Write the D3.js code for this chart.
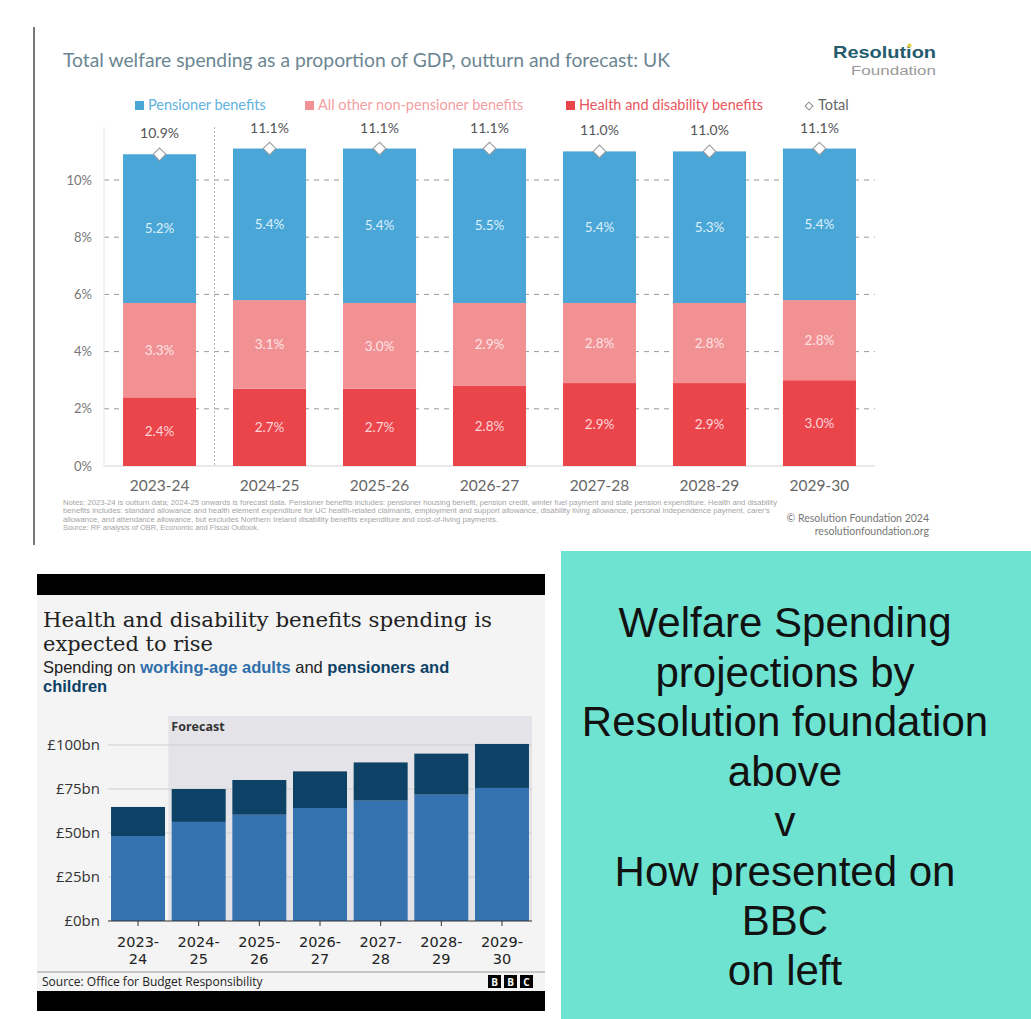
<!DOCTYPE html>
<meta charset="utf-8">
<title>Welfare spending: Resolution Foundation v BBC</title>
<style>
  body { margin: 0; background: #fff; }
  svg { display: block; }
  .rf { font-family: Lato, "Open Sans", sans-serif; }
  .bbc { font-family: "Open Sans", "Noto Sans", sans-serif; }
  .note { font-family: "Liberation Sans", Arial, sans-serif; }
</style>
<body>
<svg id="chart" width="1031" height="1019"></svg>
<script src="https://d3js.org/d3.v7.min.js"></script>
<script>
// ---- data: Resolution Foundation chart (top) ----
var rfYears = ["2023-24", "2024-25", "2025-26", "2026-27", "2027-28", "2028-29", "2029-30"];
var rfHealth = [2.4, 2.7, 2.7, 2.8, 2.9, 2.9, 3.0];
var rfOther = [3.3, 3.1, 3.0, 2.9, 2.8, 2.8, 2.8];
var rfPension = [5.2, 5.4, 5.4, 5.5, 5.4, 5.3, 5.4];
var rfTotal = [10.9, 11.1, 11.1, 11.1, 11.0, 11.0, 11.1];
var rfTicks = [0, 2, 4, 6, 8, 10];

// ---- data: BBC chart (bottom left), £bn ----
var bbcYears = ["2023-24", "2024-25", "2025-26", "2026-27", "2027-28", "2028-29", "2029-30"];
var bbcWorkingAge = [48.3, 56.3, 60.4, 64.2, 68.4, 71.8, 75.6];
var bbcPensionersChildren = [16.5, 18.7, 19.7, 20.8, 21.7, 23.3, 25.0];
var bbcTicks = [0, 25, 50, 75, 100];

// ---- caption (bottom right) ----
var captionLines = ["Welfare Spending", "projections by", "Resolution foundation", "above", "v", "How presented on", "BBC", "on left"];

var svg = d3.select("#chart");
var pct = function(v) { return d3.format(".1f")(v) + "%"; };

/* ================= Resolution Foundation ================= */
var rf = svg.append("g").attr("class", "rf");

rf.append("line")
    .attr("x1", 34).attr("x2", 34).attr("y1", 27).attr("y2", 545)
    .attr("stroke", "#4a4a4a").attr("stroke-width", 1.5);

rf.append("text")
    .attr("x", 63).attr("y", 67)
    .attr("fill", "#6b8692").attr("font-size", 19)
    .attr("textLength", 607).attr("lengthAdjust", "spacingAndGlyphs")
    .text("Total welfare spending as a proportion of GDP, outturn and forecast: UK");

// logo
rf.append("text")
    .attr("x", 936).attr("y", 58).attr("text-anchor", "end")
    .attr("font-family", "'Liberation Sans', Arial, sans-serif")
    .attr("fill", "#245c6e").attr("font-size", 17).attr("font-weight", "bold")
    .attr("textLength", 103).attr("lengthAdjust", "spacingAndGlyphs")
    .text("Resolution");
rf.append("text")
    .attr("x", 936).attr("y", 75).attr("text-anchor", "end")
    .attr("font-family", "'Liberation Sans', Arial, sans-serif")
    .attr("fill", "#9a9a9a").attr("font-size", 13)
    .attr("textLength", 85).attr("lengthAdjust", "spacingAndGlyphs")
    .text("Foundation");
rf.append("circle").attr("cx", 909.5).attr("cy", 45.5).attr("r", 2).attr("fill", "#e8d23a");

// colours
var cPension = "#4aa6d6", cOther = "#f29194", cHealth = "#eb454c";

// legend
var legend = [
  {label: "Pensioner benefits", x: 148, color: cPension, text: "#5fb2de"},
  {label: "All other non-pensioner benefits", x: 318, color: cOther, text: "#f2a0a3"},
  {label: "Health and disability benefits", x: 579, color: cHealth, text: "#e8575d"},
  {label: "Total", x: 818, color: null, text: "#666"}
];
legend.forEach(function(d) {
  if (d.color) {
    rf.append("rect").attr("x", d.x - 13).attr("y", 101).attr("width", 9).attr("height", 9).attr("fill", d.color);
  } else {
    rf.append("path")
        .attr("d", d3.symbol(d3.symbolSquare, 30)())
        .attr("transform", "translate(" + (d.x - 9) + ",106) rotate(45)")
        .attr("fill", "#fff").attr("stroke", "#888").attr("stroke-width", 1);
  }
  rf.append("text").attr("x", d.x).attr("y", 110)
      .attr("fill", d.text).attr("font-size", 14.5).text(d.label);
});

var xRF = d3.scaleBand().domain(rfYears).range([104, 875]).paddingInner(0.336).paddingOuter(0.173);
var yRF = d3.scaleLinear().domain([0, 10]).range([466, 180]);

// gridlines
rf.append("g").selectAll("line")
  .data(rfTicks.filter(function(t) { return t > 0; }))
  .enter().append("line")
    .attr("x1", 104).attr("x2", 875)
    .attr("y1", function(d) { return yRF(d); }).attr("y2", function(d) { return yRF(d); })
    .attr("stroke", "#9a9a9a").attr("stroke-dasharray", "5,5");
rf.append("line").attr("x1", 104).attr("x2", 875).attr("y1", yRF(0)).attr("y2", yRF(0))
    .attr("stroke", "#e0e0e0").attr("stroke-width", 1.5);
rf.append("line").attr("x1", 104).attr("x2", 104).attr("y1", 127).attr("y2", yRF(0))
    .attr("stroke", "#e2e2e2");
// outturn / forecast separator
var sepX = (xRF(rfYears[0]) + xRF.bandwidth() + xRF(rfYears[1])) / 2;
rf.append("line").attr("x1", sepX).attr("x2", sepX).attr("y1", 127).attr("y2", yRF(0))
    .attr("stroke", "#b5b5b5").attr("stroke-dasharray", "2,2");

// y tick labels
rf.append("g").selectAll("text")
  .data(rfTicks)
  .enter().append("text")
    .attr("x", 92).attr("y", function(d) { return yRF(d); }).attr("dy", "0.35em")
    .attr("text-anchor", "end").attr("fill", "#777").attr("font-size", 13)
    .text(function(d) { return d + "%"; });

// stacked bars
rfYears.forEach(function(yr, i) {
  var x = xRF(yr), w = xRF.bandwidth();
  var segs = [
    {lo: 0, hi: rfHealth[i], v: rfHealth[i], fill: cHealth, lab: "#fcd6d8"},
    {lo: rfHealth[i], hi: rfHealth[i] + rfOther[i], v: rfOther[i], fill: cOther, lab: "#fde3e4"},
    {lo: rfHealth[i] + rfOther[i], hi: rfTotal[i], v: rfPension[i], fill: cPension, lab: "#dcf0fb"}
  ];
  segs.forEach(function(s) {
    rf.append("rect")
        .attr("x", x).attr("width", w)
        .attr("y", yRF(s.hi)).attr("height", yRF(s.lo) - yRF(s.hi))
        .attr("fill", s.fill);
    rf.append("text")
        .attr("x", x + w / 2).attr("y", (yRF(s.lo) + yRF(s.hi)) / 2).attr("dy", "0.35em")
        .attr("text-anchor", "middle").attr("fill", s.lab).attr("font-size", 13.5)
        .text(pct(s.v));
  });
  rf.append("path")
      .attr("d", d3.symbol(d3.symbolSquare, 80)())
      .attr("transform", "translate(" + (x + w / 2) + "," + yRF(rfTotal[i]) + ") rotate(45)")
      .attr("fill", "#fff").attr("stroke", "#999").attr("stroke-width", 1);
  rf.append("text")
      .attr("x", x + w / 2).attr("y", yRF(rfTotal[i]) - 16)
      .attr("text-anchor", "middle").attr("fill", "#555").attr("font-size", 14)
      .text(pct(rfTotal[i]));
  rf.append("text")
      .attr("x", x + w / 2).attr("y", 491)
      .attr("text-anchor", "middle").attr("fill", "#666").attr("font-size", 15.5)
      .text(yr);
});

// notes
var notes = [
  ["Notes: 2023-24 is outturn data; 2024-25 onwards is forecast data. Pensioner benefits includes: pensioner housing benefit, pension credit, winter fuel payment and state pension expenditure. Health and disability", 714],
  ["benefits includes: standard allowance and health element expenditure for UC health-related claimants, employment and support allowance, disability living allowance, personal independence payment, carer's", 707],
  ["allowance, and attendance allowance, but excludes Northern Ireland disability benefits expenditure and cost-of-living payments.", 435],
  ["Source: RF analysis of OBR, Economic and Fiscal Outlook.", 196]
];
var noteText = rf.append("text").attr("class", "note")
    .attr("fill", "#a5a5a5").attr("font-size", 6.6);
notes.forEach(function(n, i) {
  noteText.append("tspan")
      .attr("x", 63).attr("y", 505 + i * 8.3)
      .attr("textLength", n[1]).attr("lengthAdjust", "spacingAndGlyphs")
      .text(n[0]);
});
var copy = rf.append("text").attr("text-anchor", "end").attr("fill", "#777").attr("font-size", 10.5);
copy.append("tspan").attr("x", 929).attr("y", 522).text("© Resolution Foundation 2024");
copy.append("tspan").attr("x", 929).attr("y", 535).text("resolutionfoundation.org");

/* ================= BBC ================= */
var bbc = svg.append("g").attr("class", "bbc");

bbc.append("rect").attr("x", 37).attr("y", 574).attr("width", 508).attr("height", 21).attr("fill", "#000");
bbc.append("rect").attr("x", 37).attr("y", 595).attr("width", 508).attr("height", 396).attr("fill", "#f4f4f4");
bbc.append("rect").attr("x", 37).attr("y", 991).attr("width", 508).attr("height", 20).attr("fill", "#000");

var title = bbc.append("text")
    .attr("font-family", "'DejaVu Serif', serif").attr("font-size", 20.5).attr("fill", "#222");
title.append("tspan").attr("x", 43).attr("y", 627)
    .attr("textLength", 449).attr("lengthAdjust", "spacingAndGlyphs")
    .text("Health and disability benefits spending is");
title.append("tspan").attr("x", 43).attr("y", 651)
    .attr("textLength", 170).attr("lengthAdjust", "spacingAndGlyphs")
    .text("expected to rise");

var cWorking = "#3472b0", cPensioners = "#0d4266";
var sub = bbc.append("text").attr("font-family", "'Liberation Sans', Arial, sans-serif")
    .attr("font-size", 16.5).attr("fill", "#222");
sub.append("tspan").attr("x", 43).attr("y", 673).text("Spending on ");
sub.append("tspan").attr("font-weight", "bold").attr("fill", "#2f6fab").text("working-age adults");
sub.append("tspan").text(" and ");
sub.append("tspan").attr("font-weight", "bold").attr("fill", cPensioners).text("pensioners and");
sub.append("tspan").attr("x", 43).attr("y", 692)
    .attr("font-weight", "bold").attr("fill", cPensioners).text("children");

var xBBC = d3.scaleBand().domain(bbcYears).range([108, 532]).paddingInner(0.11).paddingOuter(0.05);
var yBBC = d3.scaleLinear().domain([0, 100]).range([921, 745]);

// forecast shading
var fcX = xBBC(bbcYears[1]) - xBBC.step() * 0.11 / 2;
bbc.append("rect").attr("x", fcX).attr("y", 716)
    .attr("width", 532 - fcX).attr("height", yBBC(0) - 716).attr("fill", "#e4e4e8");
bbc.append("text").attr("x", fcX + 3).attr("y", 731)
    .attr("font-size", 12.5).attr("font-weight", "bold").attr("fill", "#333").text("Forecast");

// grid + y labels
bbc.append("g").selectAll("line")
  .data(bbcTicks.filter(function(t) { return t > 0; }))
  .enter().append("line")
    .attr("x1", 108).attr("x2", 532)
    .attr("y1", function(d) { return yBBC(d); }).attr("y2", function(d) { return yBBC(d); })
    .attr("stroke", "#cfcfcf");
bbc.append("g").selectAll("text")
  .data(bbcTicks)
  .enter().append("text")
    .attr("x", 100).attr("y", function(d) { return yBBC(d); }).attr("dy", "0.35em")
    .attr("text-anchor", "end").attr("font-size", 15).attr("fill", "#333")
    .text(function(d) { return "£" + d + "bn"; });

// stacked bars
bbcYears.forEach(function(yr, i) {
  var x = xBBC(yr), w = xBBC.bandwidth();
  var top = bbcWorkingAge[i] + bbcPensionersChildren[i];
  bbc.append("rect").attr("x", x).attr("width", w)
      .attr("y", yBBC(bbcWorkingAge[i])).attr("height", yBBC(0) - yBBC(bbcWorkingAge[i]))
      .attr("fill", cWorking);
  bbc.append("rect").attr("x", x).attr("width", w)
      .attr("y", yBBC(top)).attr("height", yBBC(bbcWorkingAge[i]) - yBBC(top))
      .attr("fill", cPensioners);
  var cx = x + w / 2;
  bbc.append("line").attr("x1", cx).attr("x2", cx).attr("y1", yBBC(0)).attr("y2", yBBC(0) + 5)
      .attr("stroke", "#333");
  var parts = yr.split("-");
  var lab = bbc.append("text").attr("text-anchor", "middle")
      .attr("font-family", "'DejaVu Sans', sans-serif")
      .attr("font-size", 14.5).attr("fill", "#222");
  lab.append("tspan").attr("x", cx).attr("y", 947).text(parts[0] + "-");
  lab.append("tspan").attr("x", cx).attr("y", 964).text(parts[1]);
});
bbc.append("line").attr("x1", 108).attr("x2", 532).attr("y1", yBBC(0)).attr("y2", yBBC(0))
    .attr("stroke", "#333");

// footer
bbc.append("line").attr("x1", 37).attr("x2", 545).attr("y1", 972).attr("y2", 972).attr("stroke", "#999");
bbc.append("text").attr("x", 42).attr("y", 986).attr("font-size", 12).attr("fill", "#222")
    .text("Source: Office for Budget Responsibility");
["B", "B", "C"].forEach(function(l, i) {
  var bx = 488 + i * 16;
  bbc.append("rect").attr("x", bx).attr("y", 975).attr("width", 13).attr("height", 13).attr("fill", "#000");
  bbc.append("text").attr("x", bx + 6.5).attr("y", 985.5).attr("text-anchor", "middle")
      .attr("font-size", 10).attr("font-weight", "bold").attr("fill", "#fff").text(l);
});

/* ================= caption panel ================= */
svg.append("rect").attr("x", 561).attr("y", 551).attr("width", 470).attr("height", 468).attr("fill", "#6fe3d1");
svg.append("g").selectAll("text")
  .data(captionLines)
  .enter().append("text")
    .attr("x", 785).attr("y", function(d, i) { return 637 + i * 49.7; })
    .attr("text-anchor", "middle")
    .attr("font-family", "'Liberation Sans', Arial, sans-serif").attr("font-size", 42).attr("fill", "#111")
    .text(function(d) { return d; });
</script>
</body>
